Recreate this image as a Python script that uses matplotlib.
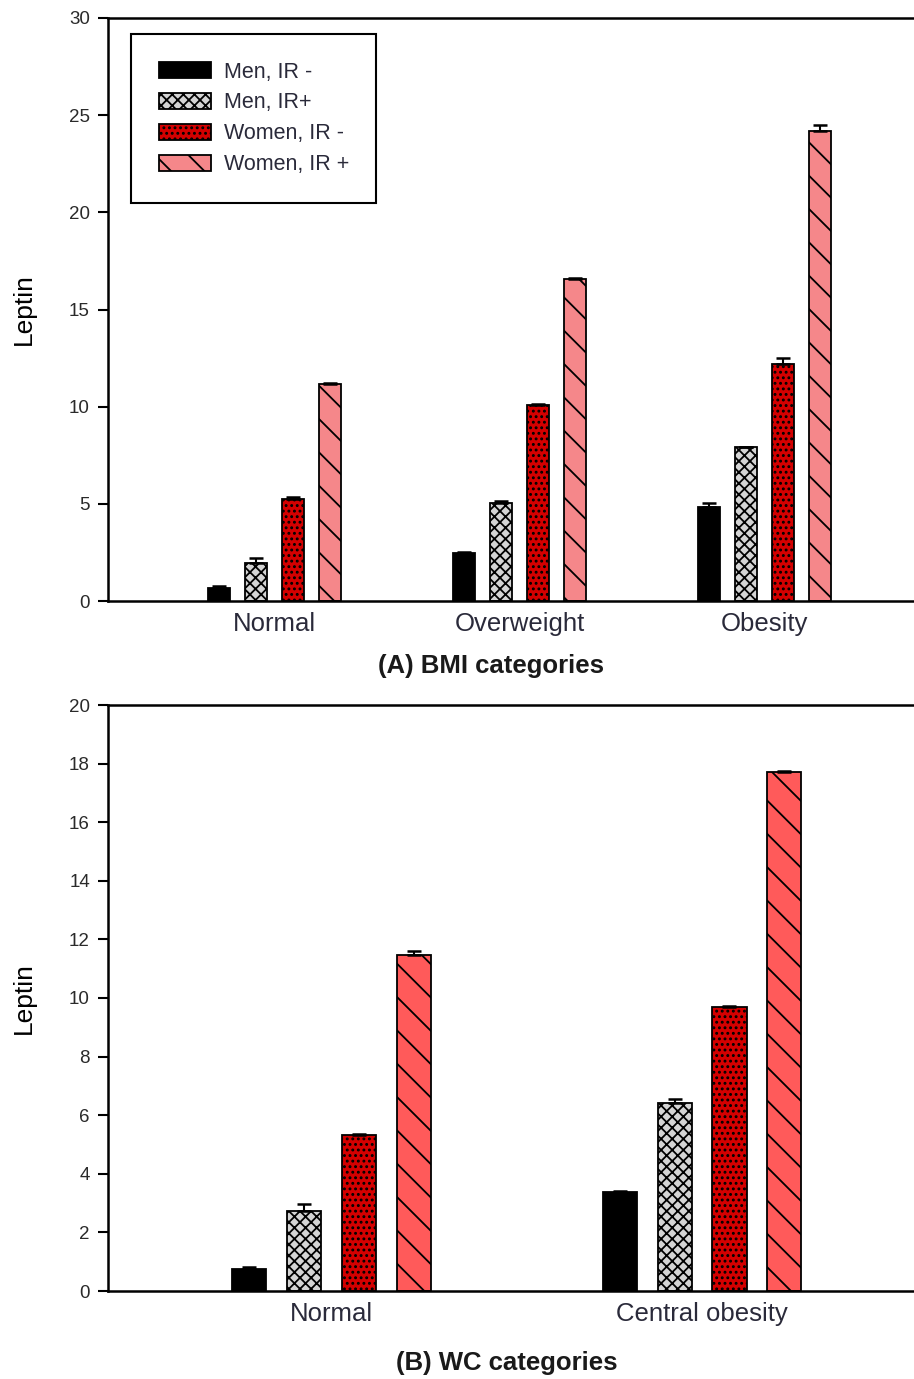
import numpy as np
import matplotlib
matplotlib.use("Agg")
import matplotlib.pyplot as plt

plt.rcParams['font.family'] = ['Liberation Sans', 'DejaVu Sans']
plt.rcParams['hatch.color'] = 'black'
plt.rcParams['hatch.linewidth'] = 1.3

series = ["Men, IR -", "Men, IR+", "Women, IR -", "Women, IR +"]

# Panel A: BMI categories
bmi_categories = ["Normal", "Overweight", "Obesity"]
bmi_men_irneg = [0.67, 2.45, 4.85]
bmi_men_irpos = [1.95, 5.05, 7.90]
bmi_women_irneg = [5.25, 10.10, 12.20]
bmi_women_irpos = [11.15, 16.55, 24.20]
bmi_err_men_irneg = [0.08, 0.08, 0.20]
bmi_err_men_irpos = [0.25, 0.08, 0.05]
bmi_err_women_irneg = [0.08, 0.05, 0.30]
bmi_err_women_irpos = [0.08, 0.08, 0.30]

# Panel B: WC categories
wc_categories = ["Normal", "Central obesity"]
wc_men_irneg = [0.75, 3.38]
wc_men_irpos = [2.73, 6.42]
wc_women_irneg = [5.33, 9.68]
wc_women_irpos = [11.47, 17.70]
wc_err_men_irneg = [0.08, 0.05]
wc_err_men_irpos = [0.25, 0.12]
wc_err_women_irneg = [0.03, 0.05]
wc_err_women_irpos = [0.15, 0.05]

W, H = 914, 1379
fig = plt.figure(figsize=(W / 100, H / 100), dpi=100)

def frac_rect(left, top, right, bottom):
    return [left / W, 1 - bottom / H, (right - left) / W, (bottom - top) / H]

axA = fig.add_axes(frac_rect(108, 18, 914, 601))
axB = fig.add_axes(frac_rect(108, 705, 914, 1291))

hatches = [None, 'xxx', '...', '\\']
def draw(ax, cats, vals, errs, colors, ylim, yticks, xlim, width, pitch, pad):
    x = np.arange(len(cats))
    offs = (np.arange(4) - 1.5) * pitch
    handles = []
    for i in range(4):
        v = np.array(vals[i]); e = np.array(errs[i])
        b = ax.bar(x + offs[i], v, width, color=colors[i], edgecolor='black',
                   linewidth=1.3, hatch=hatches[i], label=series[i], zorder=2)
        ax.errorbar(x + offs[i], v, yerr=[np.zeros_like(e), e], fmt='none',
                    ecolor='black', elinewidth=1.5, capsize=5, capthick=1.8, zorder=3)
        handles.append(b)
    ax.set_xlim(*xlim)
    ax.set_ylim(*ylim)
    ax.set_yticks(yticks)
    ax.set_xticks(x)
    ax.set_xticklabels(cats, fontsize=18.5, color='#2a2a3a')
    ax.tick_params(axis='x', length=0, pad=pad)
    ax.tick_params(axis='y', direction='out', length=7, width=1.5, labelsize=13.5,
                   labelcolor='#2a2a2a', pad=6)
    for s in ['left', 'bottom', 'top']:
        ax.spines[s].set_linewidth(1.8)
    ax.spines['right'].set_visible(False)
    ax.set_ylabel("Leptin", fontsize=19, labelpad=24)
    return handles

colorsA = ['black', '#d4d4d4', '#d40000', '#f5878a']
colorsB = ['black', '#d4d4d4', '#d40000', '#ff5a5a']

hA = draw(axA, bmi_categories,
          [bmi_men_irneg, bmi_men_irpos, bmi_women_irneg, bmi_women_irpos],
          [bmi_err_men_irneg, bmi_err_men_irpos, bmi_err_women_irneg, bmi_err_women_irpos],
          colorsA, (0, 30), np.arange(0, 31, 5), (-0.68, 2.61), 0.092, 0.151, 8)
draw(axB, wc_categories,
     [wc_men_irneg, wc_men_irpos, wc_women_irneg, wc_women_irpos],
     [wc_err_men_irneg, wc_err_men_irpos, wc_err_women_irneg, wc_err_women_irpos],
     colorsB, (0, 20), np.arange(0, 21, 2), (-0.603, 1.572), 0.092, 0.148, 8)

leg = axA.legend(handles=hA, loc='upper left', bbox_to_anchor=(0.0285, 0.9726),
                 fontsize=15.5, handlelength=2.42, handleheight=0.75, labelspacing=0.46,
                 borderpad=1.28, handletextpad=0.6, borderaxespad=0, fancybox=False,
                 framealpha=1, edgecolor='black')
leg.get_frame().set_linewidth(1.5)
for t in leg.get_texts():
    t.set_color('#2a2a3a')

fig.text(491 / W, 1 - 666 / H, "(A) BMI categories", ha='center', va='center',
         fontsize=18.5, fontweight='bold', color='#1a1a1a')
fig.text(507 / W, 1 - 1363 / H, "(B) WC categories", ha='center', va='center',
         fontsize=18.5, fontweight='bold', color='#1a1a1a')

fig.savefig("out.png", dpi=100)
